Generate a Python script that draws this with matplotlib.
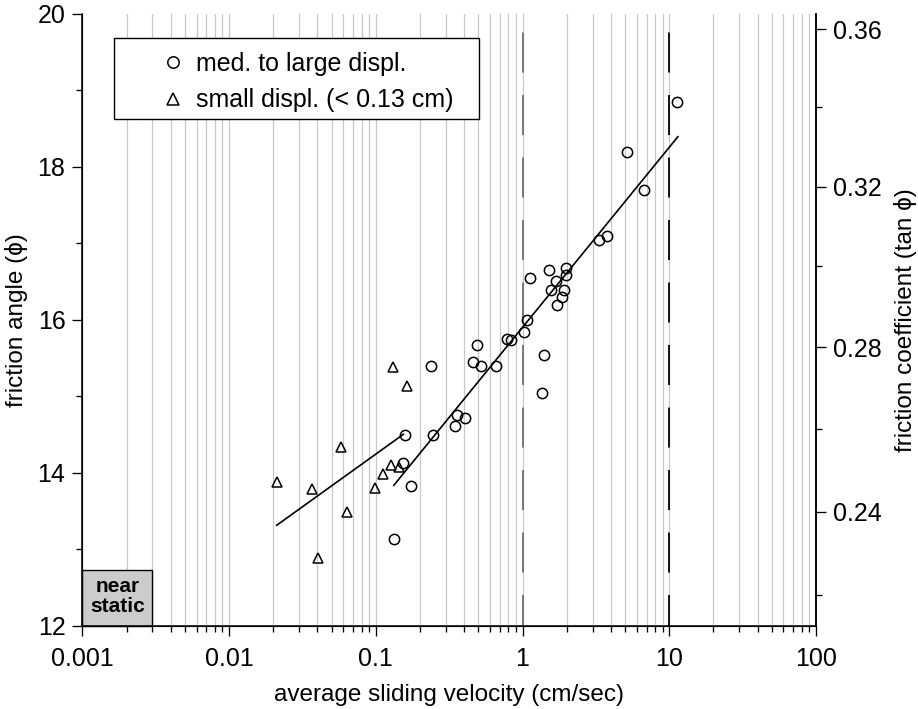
import numpy as np
import matplotlib
matplotlib.use('Agg')
from matplotlib import pyplot as plt, ticker
from matplotlib.patches import Rectangle
from matplotlib.lines import Line2D

plt.rcParams['font.family'] = ['Liberation Sans', 'DejaVu Sans']
plt.rcParams['lines.scale_dashes'] = False

# medium to large displacement (circles)
large_v = [0.132, 0.1535, 0.159, 0.173, 0.236, 0.246, 0.344, 0.36, 0.408,
           0.458, 0.491, 0.522, 0.658, 0.782, 0.836, 1.02, 1.074, 1.132,
           1.36, 1.41, 1.51, 1.567, 1.686, 1.73, 1.853, 1.93, 1.973, 1.99,
           3.34, 3.79, 5.16, 6.75, 11.32]
large_phi = [13.14, 14.135, 14.49, 13.834, 15.40, 14.49, 14.614, 14.76, 14.715,
             15.447, 15.677, 15.395, 15.40, 15.748, 15.739, 15.843, 16.0, 16.549,
             15.046, 15.542, 16.649, 16.392, 16.514, 16.2, 16.297, 16.396, 16.592, 16.68,
             17.046, 17.098, 18.2, 17.695, 18.85]

# small displacement (triangles)
small_v = [0.0211, 0.0367, 0.0577, 0.0634, 0.0402, 0.0989, 0.1116, 0.127,
           0.1449, 0.1306, 0.1634]
small_phi = [13.886, 13.787, 14.34, 13.486, 12.885, 13.808, 13.987, 14.105,
             14.08, 15.39, 15.14]

# fit lines
fit_small_v = [0.0211, 0.1543]
fit_small_phi = [13.316, 14.506]
fit_large_v = [0.1327, 11.45]
fit_large_phi = [13.839, 18.396]

x_ticks = [0.001, 0.01, 0.1, 1, 10, 100]
x_labels = ['0.001', '0.01', '0.1', '1', '10', '100']
y_ticks = [12, 14, 16, 18, 20]
mu_ticks = [0.24, 0.28, 0.32, 0.36]
mu_minor = [0.22, 0.26, 0.30, 0.34]
marked_v = [1, 10]
marked_colors = ['#707070', 'black']

fig = plt.figure(figsize=(9.18, 7.09), dpi=100)
ax = fig.add_axes([0.0897, 0.1171, 0.7992, 0.8632])

ax.set_xscale('log')
ax.set_xlim(0.001, 100)
ax.set_ylim(12, 20)

ax.grid(True, which='both', axis='x', color='#c8c8c8', lw=0.9, zorder=0)
ax.set_axisbelow(True)

for v, c in zip(marked_v, marked_colors):
    ax.plot([v, v], [12, 20], color=c, lw=1.3,
            linestyle=(6.5, (28.8, 16.2)), zorder=1)

ax.plot(fit_small_v, fit_small_phi, color='black', lw=1.2, zorder=3)
ax.plot(fit_large_v, fit_large_phi, color='black', lw=1.2, zorder=3)
ax.plot(large_v, large_phi, 'o', ms=7.4, mfc='none', mec='black', mew=1.1, zorder=4)
ax.plot(small_v, small_phi, '^', ms=7.4, mfc='none', mec='black', mew=1.1, zorder=4)

# near static box
ax.add_patch(Rectangle((0.001, 12), 0.002, 0.73, facecolor='#cccccc',
                       edgecolor='black', lw=1.0, zorder=2, clip_on=False))
ax.text(np.sqrt(0.001 * 0.003), 12.39, 'near\nstatic', ha='center', va='center',
        fontsize=15, fontweight='bold', linespacing=1.05, zorder=3)

# legend
ax.add_patch(Rectangle((0.0432, 0.828), 0.498, 0.132, transform=ax.transAxes,
                       facecolor='white', edgecolor='black', lw=1.0, zorder=5))
handles = [Line2D([], [], marker='o', ls='none', ms=8.2, mfc='none', mec='black', mew=1.1),
           Line2D([], [], marker='^', ls='none', ms=8, mfc='none', mec='black', mew=1.1)]
leg = ax.legend(handles, ['med. to large displ.', 'small displ. (< 0.13 cm)'],
                loc='upper left', bbox_to_anchor=(0.110, 0.938), frameon=False,
                fontsize=18, borderpad=0, borderaxespad=0, handlelength=0.8,
                handletextpad=0.5, labelspacing=0.5)
leg.set_zorder(6)

ax.spines['top'].set_visible(False)
for s in ('left', 'bottom', 'right'):
    ax.spines[s].set_linewidth(1.1)

ax.set_xticks(x_ticks)
ax.set_xticklabels(x_labels)
ax.xaxis.set_minor_locator(ticker.LogLocator(base=10, subs=np.arange(2, 10), numticks=20))
ax.xaxis.set_minor_formatter(ticker.NullFormatter())
ax.set_yticks(y_ticks)
ax.yaxis.set_minor_locator(ticker.MultipleLocator(1))
ax.tick_params(which='major', direction='out', length=7.2, width=0.95,
               labelsize=18, pad=5)
ax.tick_params(axis='x', which='major', pad=8)
ax.tick_params(which='minor', direction='out', length=4.3, width=0.95)

ax.set_xlabel('average sliding velocity (cm/sec)', fontsize=17.5, labelpad=9)
ax.set_ylabel('friction angle (\u03d5)', fontsize=17.5, labelpad=7)

ax2 = ax.twinx()
ax2.set_ylim(12, 20)
ax2.set_yticks(np.degrees(np.arctan(mu_ticks)))
ax2.set_yticklabels(['%.2f' % m for m in mu_ticks])
ax2.set_yticks(np.degrees(np.arctan(mu_minor)), minor=True)
ax2.spines['top'].set_visible(False)
ax2.spines['right'].set_linewidth(1.1)
ax2.tick_params(which='major', direction='out', length=7.2, width=0.95,
                labelsize=18, pad=5)
ax2.tick_params(which='minor', direction='out', length=4.3, width=0.95)
ax2.set_ylabel('friction coefficient (tan \u03d5)', fontsize=17.5, labelpad=9)

fig.savefig('out.png', dpi=100)
